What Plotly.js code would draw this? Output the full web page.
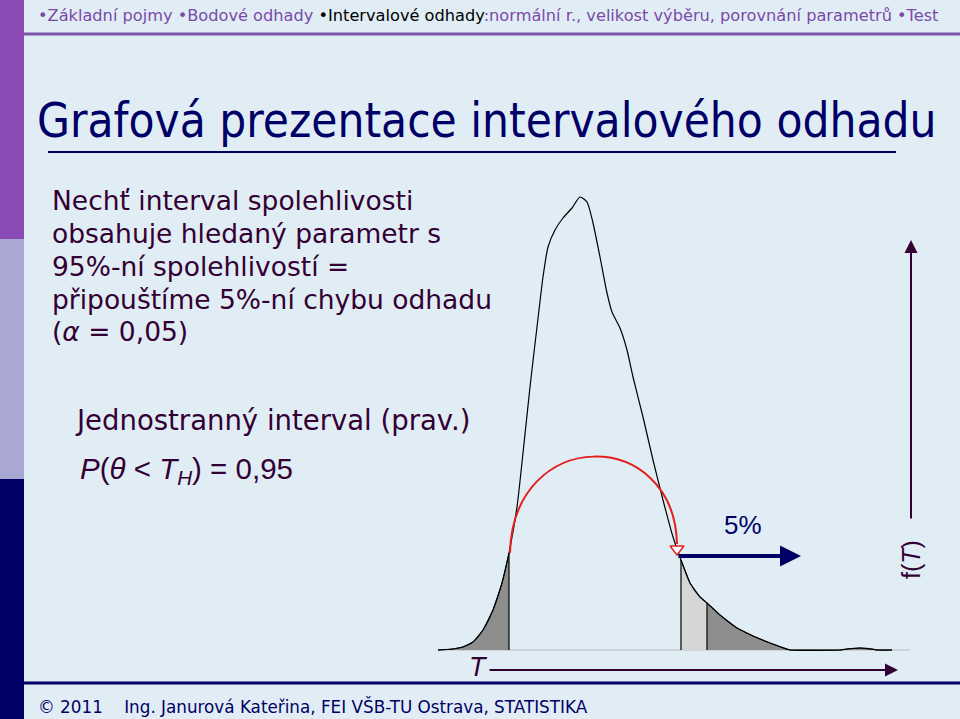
<!DOCTYPE html>
<html><head><meta charset="utf-8">
<script src="https://cdn.plot.ly/plotly-3.0.1.min.js"></script>
<style>html,body{margin:0;padding:0;background:#e1edf5;}#chart{width:960px;height:719px;}</style>
</head><body><div id="chart"></div>
<script>
// Density curve f(T) of the statistic T
const T  = [0, 1.5, 2.5, 3.5, 4.5, 5.5, 6.4, 7.1, 7.9, 8.5, 9.2, 9.9, 10.5, 11.0, 11.7, 12.5, 13.4, 14.2, 14.9, 15.5, 16.2, 16.9, 17.4, 18.2, 18.9, 19.5, 20.5, 21.5, 22.5, 23.5, 24.3, 25.2, 26.2, 26.9, 28.2, 29.9, 31.5, 33.2, 34.5, 35.2, 40.2, 40.9, 42.2, 43.5, 43.9, 45.4];
const fT = [0, 0.001, 0.003, 0.008, 0.020, 0.040, 0.067, 0.097, 0.143, 0.197, 0.263, 0.323, 0.373, 0.403, 0.420, 0.432, 0.442, 0.453, 0.448, 0.427, 0.393, 0.357, 0.338, 0.322, 0.300, 0.273, 0.233, 0.190, 0.150, 0.113, 0.090, 0.067, 0.053, 0.047, 0.035, 0.022, 0.014, 0.007, 0.002, 0, 0, 0.001, 0.002, 0.001, 0, 0];
const leftBound = 7.1;     // end of left shaded tail
const lowerCrit = 24.3;    // T_H
const upperCrit = 26.9;
const navParts = ["•Základní pojmy •Bodové odhady ", "•Intervalové odhady", ":normální r., velikost výběru, porovnání parametrů •Test"];
const titleText = "Grafová prezentace intervalového odhadu";
const bodyLines = ["Nechť interval spolehlivosti", "obsahuje hledaný parametr s", "95%-ní spolehlivostí =", "připouštíme 5%-ní chybu odhadu", "(<i>α</i> = 0,05)"];
const subTitle = "Jednostranný interval (prav.)";
const formula = "<i>P</i>(<i>θ</i> &lt; <i>T</i><sub><i>H</i></sub>) = 0,95";
const footerText = "© 2011    Ing. Janurová Kateřina, FEI VŠB-TU Ostrava, STATISTIKA";
const pctLabel = "5%";

const W = 960, H = 719;
const px = x => x / W, py = y => 1 - y / H;
const fAt = t => fT[T.indexOf(t)];
function segment(lo, hi) {
  const xs = [], ys = [];
  T.forEach((t, i) => { if (t >= lo && t <= hi) { xs.push(t); ys.push(fT[i]); } });
  return {xs, ys};
}
const segL = segment(-1, leftBound), segM = segment(lowerCrit, upperCrit), segR = segment(upperCrit, 100);
const dark = '#8e8e8e', light = '#d6d6d6';

const traces = [
  {x: segL.xs, y: segL.ys, type: 'scatter', mode: 'lines', fill: 'tozeroy', fillcolor: dark, line: {color: 'black', width: 1}, hoverinfo: 'skip'},
  {x: segM.xs, y: segM.ys, type: 'scatter', mode: 'lines', fill: 'tozeroy', fillcolor: light, line: {color: 'black', width: 1}, hoverinfo: 'skip'},
  {x: segR.xs, y: segR.ys, type: 'scatter', mode: 'lines', fill: 'tozeroy', fillcolor: dark, line: {color: 'black', width: 1}, hoverinfo: 'skip'},
  {x: T, y: fT, type: 'scatter', mode: 'lines', line: {color: 'black', width: 1.2, shape: 'spline', smoothing: 0.6}, hoverinfo: 'skip'},
  {x: [leftBound, leftBound, null, lowerCrit, lowerCrit, null, upperCrit, upperCrit],
   y: [0, fAt(leftBound), null, 0, fAt(lowerCrit), null, 0, fAt(upperCrit)],
   type: 'scatter', mode: 'lines', line: {color: 'black', width: 1.2}, hoverinfo: 'skip'},
  {x: [lowerCrit - 0.4], y: [0.101], type: 'scatter', mode: 'markers',
   marker: {symbol: 'triangle-down', size: 12, color: 'white', line: {color: '#e3201c', width: 1.5}}, hoverinfo: 'skip'}
];

const shapes = [
  {type: 'rect', xref: 'paper', yref: 'paper', x0: 0, x1: px(24), y0: py(0), y1: py(239), fillcolor: '#8a4cb4', line: {width: 0}, layer: 'below'},
  {type: 'rect', xref: 'paper', yref: 'paper', x0: 0, x1: px(24), y0: py(239), y1: py(479), fillcolor: '#a9a7d3', line: {width: 0}, layer: 'below'},
  {type: 'rect', xref: 'paper', yref: 'paper', x0: 0, x1: px(24), y0: py(479), y1: py(719), fillcolor: '#000066', line: {width: 0}, layer: 'below'},
  {type: 'line', xref: 'paper', yref: 'paper', x0: px(24), x1: 1, y0: py(34), y1: py(34), line: {color: '#7d55ab', width: 3}},
  {type: 'line', xref: 'paper', yref: 'paper', x0: px(48), x1: px(896), y0: py(152), y1: py(152), line: {color: '#000066', width: 2}},
  {type: 'line', xref: 'paper', yref: 'paper', x0: px(24), x1: 1, y0: py(683), y1: py(683), line: {color: '#000066', width: 3}},
  {type: 'line', xref: 'x', yref: 'y', x0: 0, x1: 47.2, y0: 0, y1: 0, line: {color: '#c3cad2', width: 1.5}, layer: 'below'},
  {type: 'path', xref: 'x', yref: 'y', path: 'M 7.2,0.097 C 7.5,0.224 23.6,0.224 23.9,0.106', line: {color: '#e3201c', width: 2}}
];

const txtColor = '#330033';
const annotations = [
  {xref: 'paper', yref: 'paper', x: px(36), y: py(16), xanchor: 'left', yanchor: 'middle', showarrow: false,
   text: '<span style="color:#7a4aa8">' + navParts[0] + '</span><span style="color:#000000">' + navParts[1] + '</span><span style="color:#7a4aa8">' + navParts[2] + '</span>',
   font: {family: 'DejaVu Sans', size: 16.2, color: '#7a4aa8'}},
  {xref: 'paper', yref: 'paper', x: px(35), y: py(120), xanchor: 'left', yanchor: 'middle', showarrow: false,
   text: titleText, font: {family: 'DejaVu Sans Condensed', size: 47.3, color: '#000066'}},
  {xref: 'paper', yref: 'paper', x: px(73), y: py(420), xanchor: 'left', yanchor: 'middle', showarrow: false,
   text: subTitle, font: {family: 'DejaVu Sans', size: 27.5, color: txtColor}},
  {xref: 'paper', yref: 'paper', x: px(78), y: py(470), xanchor: 'left', yanchor: 'middle', showarrow: false,
   text: formula, font: {family: 'Liberation Sans', size: 29.5, color: txtColor}},
  {xref: 'paper', yref: 'paper', x: px(36), y: py(706), xanchor: 'left', yanchor: 'middle', showarrow: false,
   text: footerText, font: {family: 'DejaVu Sans', size: 16.8, color: '#000066'}},
  {xref: 'paper', yref: 'paper', x: px(743), y: py(525), xanchor: 'center', yanchor: 'middle', showarrow: false,
   text: pctLabel, font: {family: 'Liberation Sans', size: 26, color: '#000066'}},
  {xref: 'paper', yref: 'paper', x: px(478), y: py(667), xanchor: 'center', yanchor: 'middle', showarrow: false,
   text: '<i>T</i>', font: {family: 'Liberation Sans', size: 27, color: txtColor}},
  {xref: 'paper', yref: 'paper', x: px(911), y: py(560), xanchor: 'center', yanchor: 'middle', showarrow: false, textangle: -90,
   text: 'f(<i>T</i>)', font: {family: 'Liberation Sans', size: 25, color: txtColor}},
  {xref: 'x', yref: 'y', axref: 'x', ayref: 'y', x: 36.3, y: 0.094, ax: 23.9, ay: 0.094, text: '', showarrow: true,
   arrowhead: 2, arrowwidth: 4, arrowsize: 1.05, arrowcolor: '#000066', standoff: 0},
  {xref: 'x', yref: 'y', axref: 'x', ayref: 'y', x: 47.3, y: 0.410, ax: 47.3, ay: 0.130, text: '', showarrow: true,
   arrowhead: 2, arrowwidth: 2, arrowsize: 1.3, arrowcolor: txtColor, standoff: 0},
  {xref: 'x', yref: 'y', axref: 'x', ayref: 'y', x: 46.0, y: -0.020, ax: 5.0, ay: -0.020, text: '', showarrow: true,
   arrowhead: 2, arrowwidth: 2, arrowsize: 1.3, arrowcolor: txtColor, standoff: 0}
];
bodyLines.forEach((s, i) => annotations.push({xref: 'paper', yref: 'paper', x: px(50), y: py(201 + i * 32.7), xanchor: 'left', yanchor: 'middle', showarrow: false,
  text: s, font: {family: 'DejaVu Sans', size: 26.5, color: txtColor}}));

const layout = {
  width: W, height: H, margin: {l: 0, r: 0, t: 0, b: 0},
  paper_bgcolor: '#e1edf5', plot_bgcolor: 'rgba(0,0,0,0)', showlegend: false,
  xaxis: {domain: [400 / W, 940 / W], range: [-3.8, 50.2], visible: false, fixedrange: true},
  yaxis: {domain: [1 - 680 / H, 1 - 180 / H], range: [-0.03, 0.47], visible: false, fixedrange: true},
  shapes, annotations
};
Plotly.newPlot('chart', traces, layout, {staticPlot: true, displayModeBar: false});
</script></body></html>
